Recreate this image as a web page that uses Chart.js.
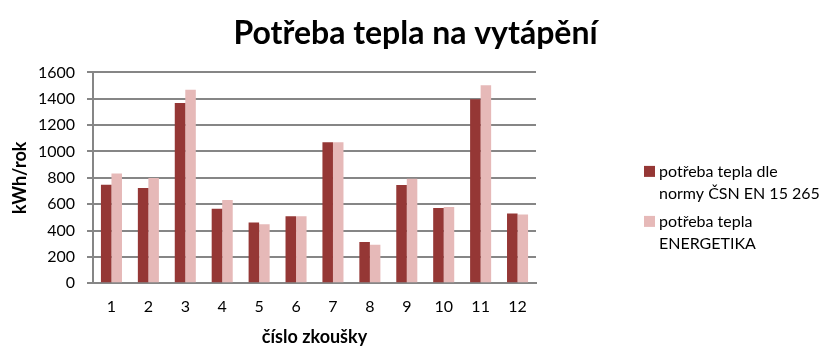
<!DOCTYPE html>
<html lang="cs">
<head>
<meta charset="UTF-8">
<title>Potřeba tepla na vytápění</title>
<script src="https://cdn.jsdelivr.net/npm/chart.js@4.4.1/dist/chart.umd.min.js"></script>
<style>
  html, body { margin: 0; padding: 0; background: #fff; }
  .wrap { width: 835px; height: 355px; position: relative; }
</style>
</head>
<body>
<div class="wrap"><canvas id="teplo"></canvas></div>
<script>
// data
const zkousky = ['1', '2', '3', '4', '5', '6', '7', '8', '9', '10', '11', '12'];
const normaCSN = [747, 722, 1368, 565, 461, 509, 1069, 312, 745, 570, 1396, 529];
const energetika = [833, 798, 1469, 631, 448, 509, 1069, 291, 793, 578, 1502, 521];
const yMax = 1600;
const yStep = 200;
const nazvyRad = [
    ['potřeba tepla dle', 'normy ČSN EN 15 265'],
    ['potřeba tepla', 'ENERGETIKA']
];

const pismo = 'Lato, "Open Sans", sans-serif';
const seda = '#868686';

// legenda vpravo, dva radky na polozku
const legendaVpravo = {
    id: 'legendaVpravo',
    afterDraw(chart) {
        const ctx = chart.ctx;
        const x = chart.chartArea.right + 108;
        let y = chart.chartArea.top + 99;
        ctx.save();
        ctx.font = '16px ' + pismo;
        ctx.textBaseline = 'middle';
        ctx.textAlign = 'left';
        chart.data.datasets.forEach((ds, i) => {
            ctx.fillStyle = ds.backgroundColor;
            ctx.fillRect(x, y - 5.5, 11, 11);
            ctx.fillStyle = '#000';
            nazvyRad[i].forEach((radek, j) => ctx.fillText(radek, x + 15, y + j * 22));
            y += 50;
        });
        ctx.restore();
    }
};

new Chart(document.getElementById('teplo'), {
    type: 'bar',
    data: {
        labels: zkousky,
        datasets: [{
            label: nazvyRad[0].join(' '),
            data: normaCSN,
            backgroundColor: '#953735',
            borderWidth: 0
        }, {
            label: nazvyRad[1].join(' '),
            data: energetika,
            backgroundColor: '#e6b9b8',
            borderWidth: 0
        }]
    },
    options: {
        responsive: true,
        maintainAspectRatio: false,
        animation: false,
        categoryPercentage: 0.57,
        barPercentage: 1.0,
        layout: { padding: { left: 0, right: 4, top: 0, bottom: 7 } },
        plugins: {
            title: {
                display: true,
                text: 'Potřeba tepla na vytápění',
                color: '#000',
                font: { family: pismo, size: 32, weight: 'bold' },
                padding: { top: 14, bottom: 20 }
            },
            legend: { display: false },
            tooltip: { enabled: false }
        },
        scales: {
            x: {
                grid: { display: false },
                border: { color: seda, width: 2 },
                ticks: { color: '#000', font: { family: pismo, size: 16 }, padding: 6 },
                title: {
                    display: true,
                    text: 'číslo zkoušky',
                    color: '#000',
                    font: { family: pismo, size: 18, weight: 'bold' },
                    padding: { top: 4, bottom: 0 }
                }
            },
            y: {
                min: 0,
                max: yMax,
                ticks: {
                    stepSize: yStep,
                    color: '#000',
                    font: { family: pismo, size: 16 },
                    padding: 12,
                    callback: (v) => String(v)
                },
                grid: { color: seda, lineWidth: 2, tickLength: 6 },
                border: { color: seda, width: 2 },
                title: {
                    display: true,
                    text: 'kWh/rok',
                    color: '#000',
                    font: { family: pismo, size: 18, weight: 'bold' },
                    padding: { top: 9, bottom: 1 }
                },
                afterFit(scale) { scale.width = 93; }
            },
            // prazdne misto mezi grafem a legendou
            mezera: {
                position: 'right',
                grid: { display: false },
                border: { display: false },
                ticks: { display: false },
                afterFit(scale) { scale.width = 295; }
            }
        }
    },
    plugins: [legendaVpravo]
});
</script>
</body>
</html>
